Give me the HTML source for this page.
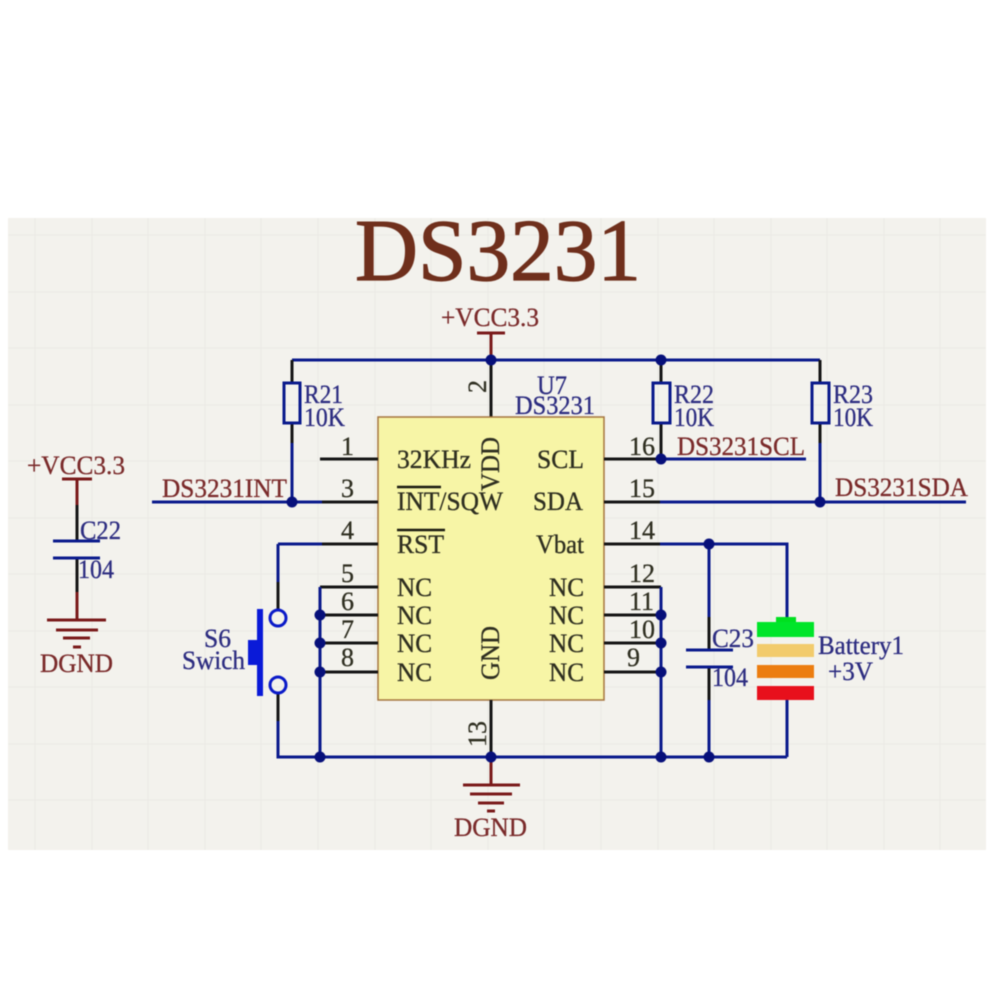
<!DOCTYPE html>
<html><head><meta charset="utf-8"><style>
html,body{margin:0;padding:0;background:#fff;width:1000px;height:1000px;overflow:hidden}
svg{display:block;filter:blur(.5px)}
text{font-family:"Liberation Serif",serif;font-size:26px;stroke-width:.3px}
.m text{fill:#7a2a2a;stroke:#7a2a2a}
.b text{fill:#2c2c80;stroke:#2c2c80}
.k text{fill:#2e2e20;stroke:#2e2e20}
.w{stroke:#0a1a8c;stroke-width:3;fill:none}
.n{stroke:#151515;stroke-width:3;fill:none}
.r{stroke:#7a1a1a;stroke-width:3;fill:none}
</style></head><body>
<svg width="1000" height="1000" viewBox="0 0 1000 1000" xmlns="http://www.w3.org/2000/svg">
<rect width="1000" height="1000" fill="#fff"/>
<rect x="8" y="218" width="978" height="632" fill="#f3f2ed"/>
<g stroke="#ebeae5" stroke-width="1">
<path d="M35 218V850M92 218V850M148 218V850M205 218V850M261 218V850M318 218V850M375 218V850M431 218V850M488 218V850M544 218V850M601 218V850M658 218V850M714 218V850M771 218V850M827 218V850M884 218V850M940 218V850"/>
<path d="M8 235H986M8 292H986M8 348H986M8 405H986M8 461H986M8 518H986M8 574H986M8 631H986M8 687H986M8 744H986M8 800H986"/>
</g>

<text x="355" y="280" style="font-size:88px;stroke-width:1.2px" fill="#6f2f1c" stroke="#6f2f1c" textLength="286" lengthAdjust="spacingAndGlyphs">DS3231</text>

<!-- top rail -->
<path class="w" d="M292 360H820"/>
<path class="r" d="M477 333H505M491 333V360"/>
<path class="n" d="M491 360V417"/>
<path class="n" d="M292 360V383M292 423V443"/>
<path class="w" d="M292 443V502"/>
<path class="n" d="M661 360V383M661 423V459"/>
<path class="n" d="M820 360V383M820 423V443"/>
<path class="w" d="M820 443V502"/>
<rect x="284" y="383" width="16" height="40" class="w" fill="none"/>
<rect x="653" y="383" width="17" height="40" class="w" fill="none"/>
<rect x="812" y="383" width="17" height="40" class="w" fill="none"/>

<!-- IC -->
<rect x="378" y="417" width="226" height="283" fill="#f7f5a6" stroke="#a5743f" stroke-width="1.5"/>

<!-- left pins -->
<path class="n" d="M320 459H378M322 502H378M322 544H378M320 587H378M320 615H378M320 643H378M320 672H378"/>
<path class="w" d="M152 502H322"/>
<path class="w" d="M278 544H322M278 544V582"/>
<path class="n" d="M278 582V610M278 693V721"/>
<path class="w" d="M278 721V757H787"/>
<path class="w" d="M320 587V757"/>

<!-- right pins -->
<path class="n" d="M604 459H661M604 502H660M604 544H660M604 587H661M604 615H661M604 643H661M604 672H661"/>
<path class="w" d="M661 459H806M660 502H966"/>
<path class="w" d="M660 544H787V618M661 587V757"/>
<path class="w" d="M709 544V617M709 700V757M787 700V757"/>
<path class="n" d="M709 617V650M709 667V700"/>
<path class="w" d="M686 650H733M686 667H733"/>

<!-- battery -->
<rect x="776" y="617" width="20" height="6" fill="#00e020"/>
<rect x="757" y="622" width="57" height="15" fill="#00e52a"/>
<rect x="757" y="644" width="57" height="13" fill="#f2cb6c"/>
<rect x="757" y="665" width="57" height="13" fill="#ec7d10"/>
<rect x="757" y="686" width="57" height="14" fill="#e8101c"/>

<!-- ground bottom -->
<path class="n" d="M491 700V757"/>
<path class="r" d="M491 757V785M463 785H520M470 794H512M478 803H504M487 811H495"/>

<!-- C22 -->
<path class="r" d="M62 479H92M77 479V505"/>
<path class="n" d="M77 505V541M77 558V592"/>
<path class="w" d="M53 541H100M53 558H100"/>
<path class="r" d="M77 592V620M47 620H106M56 630H98M63 638H90M73 647H81"/>

<!-- switch -->
<circle cx="278" cy="618" r="8" fill="none" stroke="#0a1ac8" stroke-width="3"/>
<circle cx="278" cy="685" r="8" fill="none" stroke="#0a1ac8" stroke-width="3"/>
<rect x="257" y="609" width="6" height="87" fill="#0a1ad8"/>
<rect x="248" y="640" width="11" height="25" fill="#0a1ad8"/>

<!-- junctions -->
<g fill="#07107a">
<circle cx="491" cy="360" r="5.5"/><circle cx="661" cy="360" r="5.5"/>
<circle cx="292" cy="502" r="5.5"/><circle cx="820" cy="502" r="5.5"/><circle cx="661" cy="459" r="5.5"/>
<circle cx="709" cy="544" r="5.5"/>
<circle cx="320" cy="615" r="5.5"/><circle cx="320" cy="643" r="5.5"/><circle cx="320" cy="672" r="5.5"/>
<circle cx="661" cy="615" r="5.5"/><circle cx="661" cy="643" r="5.5"/><circle cx="661" cy="672" r="5.5"/>
<circle cx="320" cy="757" r="5.5"/><circle cx="491" cy="757" r="5.5"/><circle cx="661" cy="757" r="5.5"/><circle cx="709" cy="757" r="5.5"/>
</g>

<!-- power/net labels -->
<g class="m">
<text x="441" y="326" textLength="98" lengthAdjust="spacingAndGlyphs">+VCC3.3</text>
<text x="27" y="474" textLength="98" lengthAdjust="spacingAndGlyphs">+VCC3.3</text>
<text x="40" y="672" textLength="73" lengthAdjust="spacingAndGlyphs">DGND</text>
<text x="454" y="836" textLength="73" lengthAdjust="spacingAndGlyphs">DGND</text>
<text x="162" y="497" textLength="125" lengthAdjust="spacingAndGlyphs">DS3231INT</text>
<text x="677" y="455" textLength="128" lengthAdjust="spacingAndGlyphs">DS3231SCL</text>
<text x="835" y="496" textLength="133" lengthAdjust="spacingAndGlyphs">DS3231SDA</text>
</g>

<!-- component labels -->
<g class="b">
<text x="537" y="394" textLength="30" lengthAdjust="spacingAndGlyphs">U7</text>
<text x="515" y="414" textLength="80" lengthAdjust="spacingAndGlyphs">DS3231</text>
<text x="304" y="403" textLength="39" lengthAdjust="spacingAndGlyphs">R21</text>
<text x="304" y="426" textLength="41" lengthAdjust="spacingAndGlyphs">10K</text>
<text x="674" y="403" textLength="40" lengthAdjust="spacingAndGlyphs">R22</text>
<text x="674" y="426" textLength="40" lengthAdjust="spacingAndGlyphs">10K</text>
<text x="833" y="403" textLength="40" lengthAdjust="spacingAndGlyphs">R23</text>
<text x="833" y="426" textLength="40" lengthAdjust="spacingAndGlyphs">10K</text>
<text x="80" y="539" textLength="41" lengthAdjust="spacingAndGlyphs">C22</text>
<text x="78" y="578" textLength="36" lengthAdjust="spacingAndGlyphs">104</text>
<text x="712" y="647" textLength="42" lengthAdjust="spacingAndGlyphs">C23</text>
<text x="712" y="686" textLength="36" lengthAdjust="spacingAndGlyphs">104</text>
<text x="818" y="654" textLength="86" lengthAdjust="spacingAndGlyphs">Battery1</text>
<text x="828" y="680" textLength="45" lengthAdjust="spacingAndGlyphs">+3V</text>
<text x="204" y="647" textLength="27" lengthAdjust="spacingAndGlyphs">S6</text>
<text x="182" y="669" textLength="63" lengthAdjust="spacingAndGlyphs">Swich</text>
</g>

<!-- pin numbers -->
<g class="k">
<text x="341" y="455">1</text>
<text x="341" y="497">3</text>
<text x="341" y="539">4</text>
<text x="341" y="582">5</text>
<text x="341" y="610">6</text>
<text x="341" y="638">7</text>
<text x="341" y="666">8</text>
<text x="629" y="455">16</text>
<text x="629" y="497">15</text>
<text x="629" y="539">14</text>
<text x="629" y="582">12</text>
<text x="629" y="610">11</text>
<text x="629" y="638">10</text>
<text x="627" y="666">9</text>
<text transform="translate(486,393) rotate(-90)">2</text>
<text transform="translate(486,747) rotate(-90)">13</text>
</g>

<!-- pin names -->
<g class="k">
<text x="397" y="468" textLength="74" lengthAdjust="spacingAndGlyphs">32KHz</text>
<text x="397" y="510" textLength="106" lengthAdjust="spacingAndGlyphs">INT/SQW</text>
<text x="397" y="553" textLength="47" lengthAdjust="spacingAndGlyphs">RST</text>
<text x="397" y="596" textLength="35" lengthAdjust="spacingAndGlyphs">NC</text>
<text x="397" y="624" textLength="35" lengthAdjust="spacingAndGlyphs">NC</text>
<text x="397" y="652" textLength="35" lengthAdjust="spacingAndGlyphs">NC</text>
<text x="397" y="681" textLength="35" lengthAdjust="spacingAndGlyphs">NC</text>
<text x="537" y="468" textLength="47" lengthAdjust="spacingAndGlyphs">SCL</text>
<text x="533" y="510" textLength="50" lengthAdjust="spacingAndGlyphs">SDA</text>
<text x="536" y="553" textLength="48" lengthAdjust="spacingAndGlyphs">Vbat</text>
<text x="549" y="596" textLength="35" lengthAdjust="spacingAndGlyphs">NC</text>
<text x="549" y="624" textLength="35" lengthAdjust="spacingAndGlyphs">NC</text>
<text x="549" y="652" textLength="35" lengthAdjust="spacingAndGlyphs">NC</text>
<text x="549" y="681" textLength="35" lengthAdjust="spacingAndGlyphs">NC</text>
<text transform="translate(499,491) rotate(-90)" textLength="54" lengthAdjust="spacingAndGlyphs">VDD</text>
<text transform="translate(499,680) rotate(-90)" textLength="54" lengthAdjust="spacingAndGlyphs">GND</text>
</g>
<path d="M397 487H441M397 530H445" stroke="#1a1a10" stroke-width="2.5"/>
</svg>
</body></html>
